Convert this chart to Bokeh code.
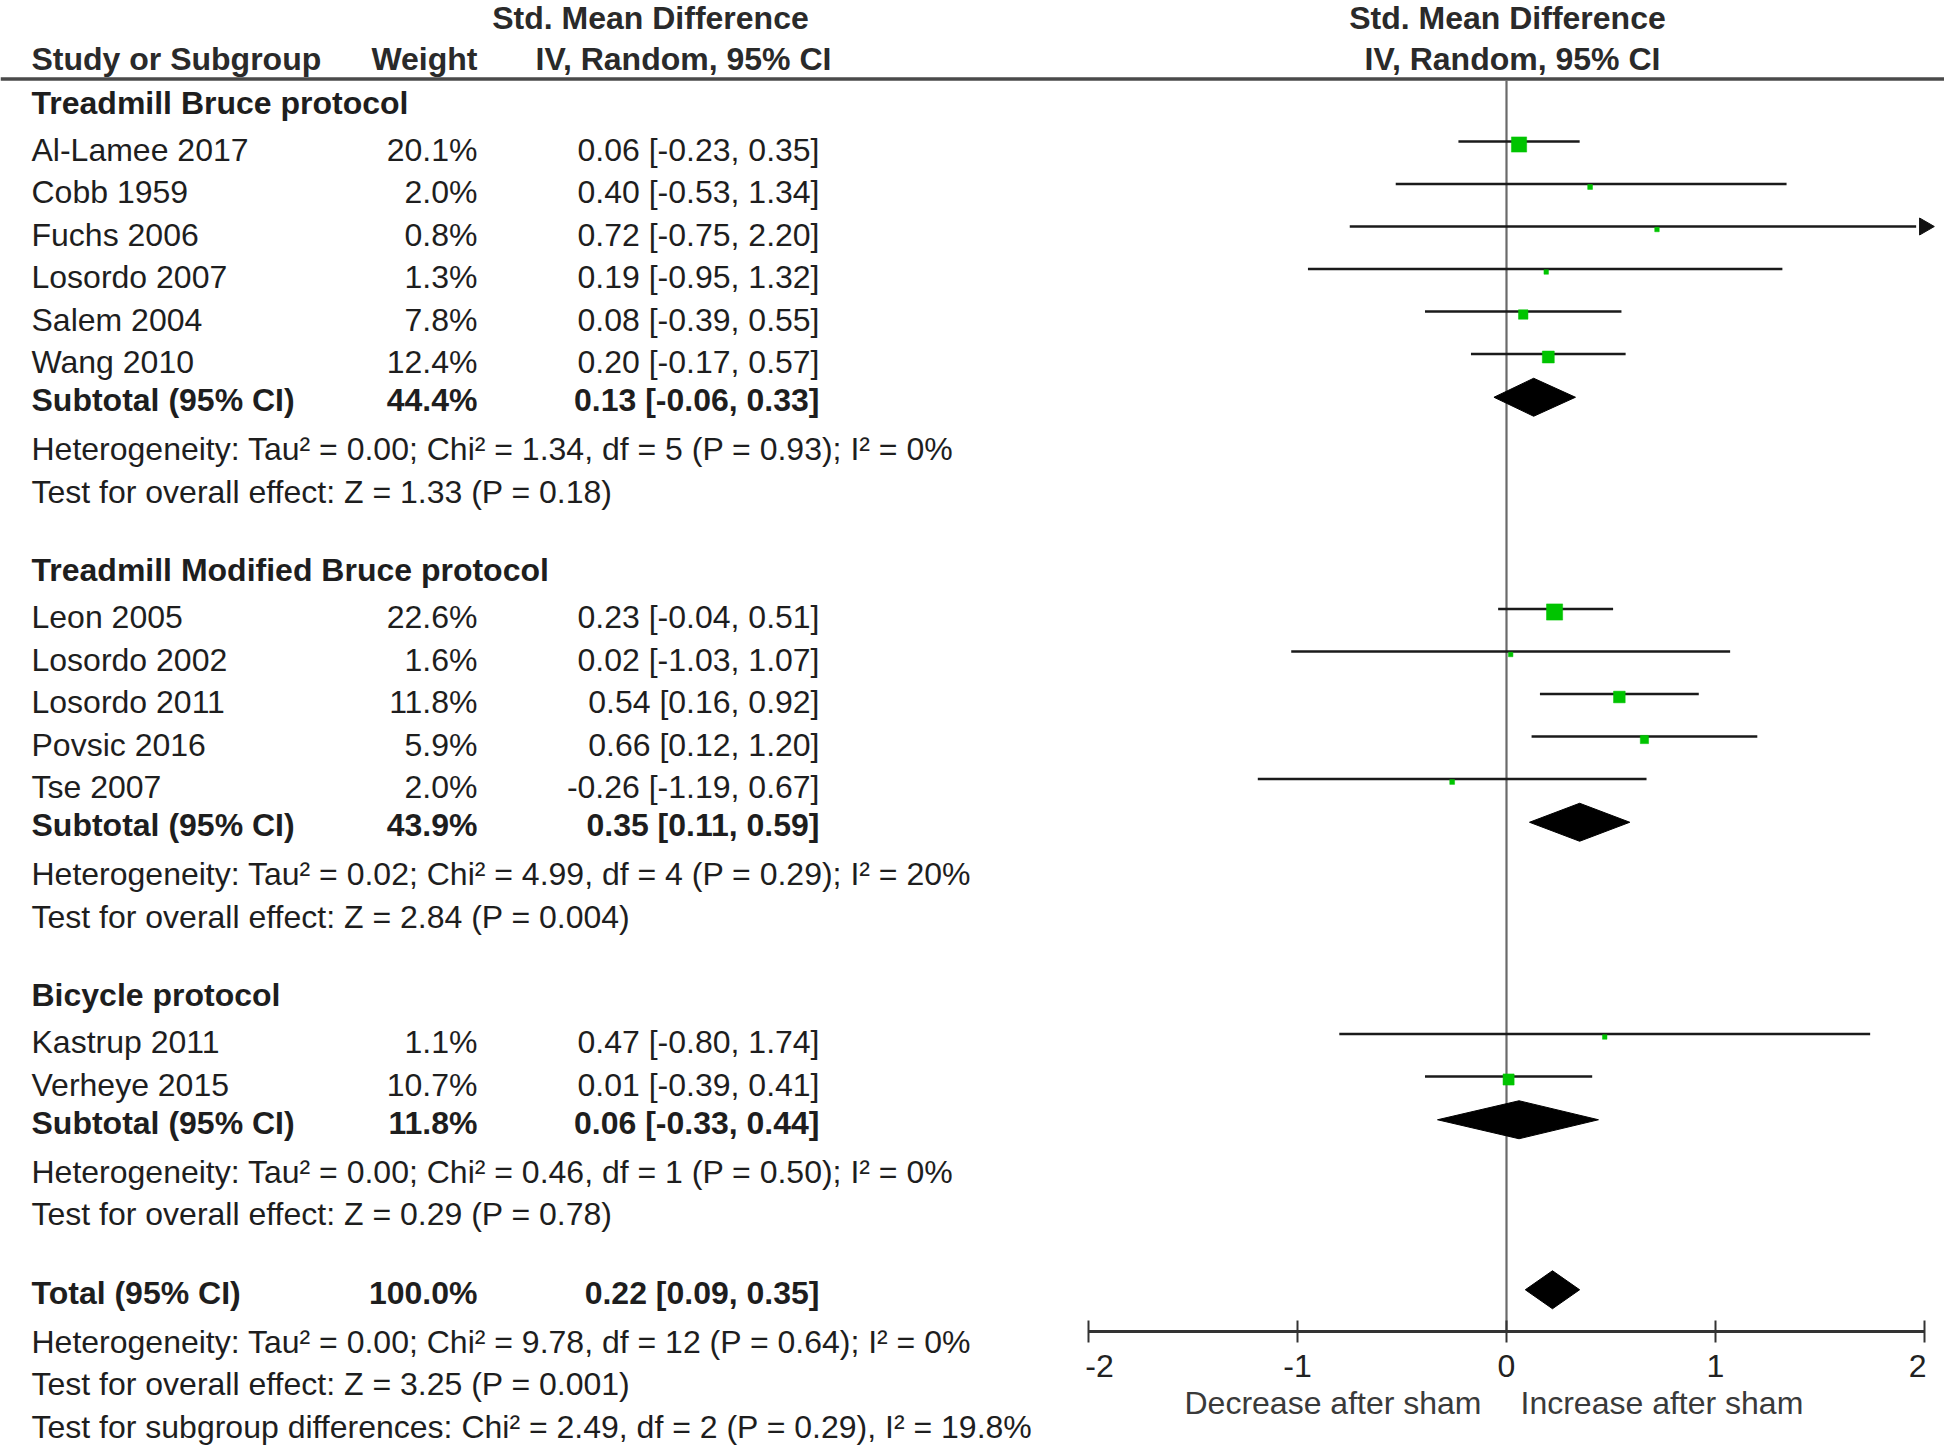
from bokeh.plotting import figure
from bokeh.models import Range1d, ColumnDataSource
from bokeh.core.properties import value
from bokeh.embed import file_html
from bokeh.resources import INLINE
import math

# ---------------- data ----------------
group_names = ["Treadmill Bruce protocol", "Treadmill Modified Bruce protocol", "Bicycle protocol"]

g1_studies = ["Al-Lamee 2017", "Cobb 1959", "Fuchs 2006", "Losordo 2007", "Salem 2004", "Wang 2010"]
g1_weight = [20.1, 2.0, 0.8, 1.3, 7.8, 12.4]
g1_smd = [0.06, 0.40, 0.72, 0.19, 0.08, 0.20]
g1_lo = [-0.23, -0.53, -0.75, -0.95, -0.39, -0.17]
g1_hi = [0.35, 1.34, 2.20, 1.32, 0.55, 0.57]

g2_studies = ["Leon 2005", "Losordo 2002", "Losordo 2011", "Povsic 2016", "Tse 2007"]
g2_weight = [22.6, 1.6, 11.8, 5.9, 2.0]
g2_smd = [0.23, 0.02, 0.54, 0.66, -0.26]
g2_lo = [-0.04, -1.03, 0.16, 0.12, -1.19]
g2_hi = [0.51, 1.07, 0.92, 1.20, 0.67]

g3_studies = ["Kastrup 2011", "Verheye 2015"]
g3_weight = [1.1, 10.7]
g3_smd = [0.47, 0.01]
g3_lo = [-0.80, -0.39]
g3_hi = [1.74, 0.41]

subtotal_weight = [44.4, 43.9, 11.8]
subtotal_smd = [0.13, 0.35, 0.06]
subtotal_lo = [-0.06, 0.11, -0.33]
subtotal_hi = [0.33, 0.59, 0.44]

heterogeneity = [
    "Heterogeneity: Tau\u00b2 = 0.00; Chi\u00b2 = 1.34, df = 5 (P = 0.93); I\u00b2 = 0%",
    "Heterogeneity: Tau\u00b2 = 0.02; Chi\u00b2 = 4.99, df = 4 (P = 0.29); I\u00b2 = 20%",
    "Heterogeneity: Tau\u00b2 = 0.00; Chi\u00b2 = 0.46, df = 1 (P = 0.50); I\u00b2 = 0%",
]
overall = [
    "Test for overall effect: Z = 1.33 (P = 0.18)",
    "Test for overall effect: Z = 2.84 (P = 0.004)",
    "Test for overall effect: Z = 0.29 (P = 0.78)",
]

total_weight = 100.0
total_smd = 0.22
total_lo = 0.09
total_hi = 0.35
total_notes = [
    "Heterogeneity: Tau\u00b2 = 0.00; Chi\u00b2 = 9.78, df = 12 (P = 0.64); I\u00b2 = 0%",
    "Test for overall effect: Z = 3.25 (P = 0.001)",
    "Test for subgroup differences: Chi\u00b2 = 2.49, df = 2 (P = 0.29), I\u00b2 = 19.8%",
]

axis_ticks = [-2, -1, 0, 1, 2]
axis_left_label = "Decrease after sham"
axis_right_label = "Increase after sham"

groups = [
    (g1_studies, g1_weight, g1_smd, g1_lo, g1_hi),
    (g2_studies, g2_weight, g2_smd, g2_lo, g2_hi),
    (g3_studies, g3_weight, g3_smd, g3_lo, g3_hi),
]

# ---------------- layout ----------------
W, H = 1944, 1451
ZERO_PX, UNIT_PX = 1506.0, 209.0
def px(x):  # picture pixel -> smd data coordinate
    return (x - ZERO_PX) / UNIT_PX

TOP, ROW = 149.0, 42.5
def ry(r):
    return TOP + ROW * r

FONT = value("Liberation Sans")
FS = "32px"
TXT = "#1e1e1e"

p = figure(width=W, height=H, output_backend="svg", toolbar_location=None,
           x_range=Range1d(px(0), px(W)), y_range=Range1d(H, 0),
           min_border=0, outline_line_color=None, background_fill_color="white",
           border_fill_color="white")
p.xaxis.visible = False
p.yaxis.visible = False
p.xgrid.visible = False
p.ygrid.visible = False

texts = {"x": [], "y": [], "t": [], "align": [], "style": [], "color": []}
def add_text(x, y, t, align="left", style="normal", color=TXT):
    texts["x"].append(x); texts["y"].append(y); texts["t"].append(t)
    texts["align"].append(align); texts["style"].append(style); texts["color"].append(color)

NAME_X, WEIGHT_X, CI_X = px(31), px(477), px(819)
fmt_ci = lambda m, l, u: f"{m:.2f} [{l:.2f}, {u:.2f}]"

# headers
HC = "#2a2a2a"
add_text(px(650), 17, "Std. Mean Difference", "center", "bold", HC)
add_text(NAME_X, 58.5, "Study or Subgroup", "left", "bold", HC)
add_text(WEIGHT_X, 58.5, "Weight", "right", "bold", HC)
add_text(px(683), 58.5, "IV, Random, 95% CI", "center", "bold", HC)
add_text(px(1507), 17, "Std. Mean Difference", "center", "bold", HC)
add_text(px(1512), 58.5, "IV, Random, 95% CI", "center", "bold", HC)

# header rule and zero line
AXIS_Y = 1331
p.segment(x0=[px(0)], y0=[78.5], x1=[px(W)], y1=[78.5], line_color="#4a4a4a", line_width=3.5)
p.segment(x0=[0], y0=[80], x1=[0], y1=[AXIS_Y], line_color="#6a6a6a", line_width=2.2)

ci = {"x0": [], "x1": [], "y": []}
sq = {"x": [], "y": [], "s": []}
arrows = {"x": [], "y": []}
dia_xs, dia_ys = [], []
DIA_H = 38
amin, amax = axis_ticks[0], axis_ticks[-1]

def add_diamond(m, l, u, y):
    yc = y - 3
    dia_xs.append([l, m, u, m])
    dia_ys.append([yc, yc - DIA_H / 2, yc, yc + DIA_H / 2])

s = 0.0
for gi, (names, wts, smds, los, his) in enumerate(groups):
    n = len(names)
    add_text(NAME_X, ry(s - 1.1), group_names[gi], "left", "bold")
    for i in range(n):
        y = ry(s + i)
        add_text(NAME_X, y, names[i])
        add_text(WEIGHT_X, y, f"{wts[i]:.1f}%", "right")
        add_text(CI_X, y, fmt_ci(smds[i], los[i], his[i]), "right")
        ly = y - 8
        x1 = min(his[i], amax)
        x0 = max(los[i], amin)
        if his[i] > amax:
            arrows["x"].append(amax); arrows["y"].append(ly)
            x1 = amax - 0.04
        ci["x0"].append(x0); ci["x1"].append(x1); ci["y"].append(ly)
        sq["x"].append(smds[i]); sq["y"].append(ly + 3)
        sq["s"].append(max(4.5, 3.4 * math.sqrt(wts[i])))
    y = ry(s + n - 0.1)
    add_text(NAME_X, y, "Subtotal (95% CI)", "left", "bold")
    add_text(WEIGHT_X, y, f"{subtotal_weight[gi]:.1f}%", "right", "bold")
    add_text(CI_X, y, fmt_ci(subtotal_smd[gi], subtotal_lo[gi], subtotal_hi[gi]), "right", "bold")
    add_diamond(subtotal_smd[gi], subtotal_lo[gi], subtotal_hi[gi], y)
    add_text(NAME_X, ry(s + n + 1.05), heterogeneity[gi])
    add_text(NAME_X, ry(s + n + 2.05), overall[gi])
    s += n + 5

y = ry(s - 1.1)
add_text(NAME_X, y, "Total (95% CI)", "left", "bold")
add_text(WEIGHT_X, y, f"{total_weight:.1f}%", "right", "bold")
add_text(CI_X, y, fmt_ci(total_smd, total_lo, total_hi), "right", "bold")
add_diamond(total_smd, total_lo, total_hi, y)
for k, note in enumerate(total_notes):
    add_text(NAME_X, ry(s + 0.05 + k), note)

# marks
p.segment(x0="x0", y0="y", x1="x1", y1="y", source=ColumnDataSource(ci),
          line_color="#1a1a1a", line_width=2.6)
p.scatter(x="x", y="y", size="s", marker="square", source=ColumnDataSource(sq),
          fill_color="#00c400", line_color="#00c400", line_width=0.5)
p.scatter(x="x", y="y", size=17, marker="triangle", angle=-math.pi / 2,
          source=ColumnDataSource(arrows), fill_color="#111111", line_color="#111111")
p.patches(xs=dia_xs, ys=dia_ys, fill_color="black", line_color="black", line_width=1)

# axis
p.segment(x0=[amin], y0=[AXIS_Y], x1=[amax], y1=[AXIS_Y], line_color="#333333", line_width=3)
p.segment(x0=axis_ticks, y0=[AXIS_Y - 11] * len(axis_ticks), x1=axis_ticks,
          y1=[AXIS_Y + 11] * len(axis_ticks), line_color="#333333", line_width=2)
for i, t in enumerate(axis_ticks):
    al = "left" if i == 0 else ("right" if i == len(axis_ticks) - 1 else "center")
    off = -0.015 if i == 0 else (0.01 if i == len(axis_ticks) - 1 else 0)
    add_text(t + off, AXIS_Y + 34, f"{t:g}", al, "normal", "#222222")
add_text(px(1481), AXIS_Y + 71, axis_left_label, "right", "normal", "#3a3a3a")
add_text(px(1520), AXIS_Y + 71, axis_right_label, "left", "normal", "#3a3a3a")

p.text(x="x", y="y", text="t", text_align="align", text_font_style="style",
       text_color="color", text_baseline="middle", text_font=FONT, text_font_size=FS,
       source=ColumnDataSource(texts))

open("out.html", "w").write(file_html(p, INLINE))
